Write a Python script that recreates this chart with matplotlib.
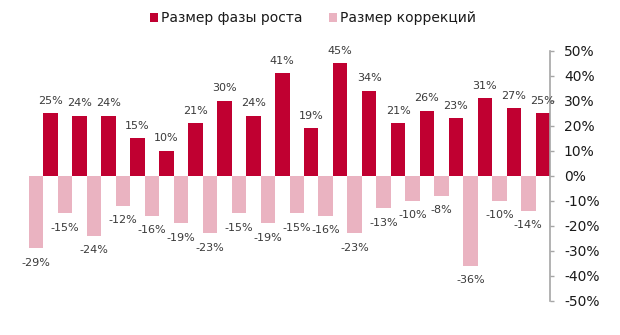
import numpy as np
import matplotlib
matplotlib.use('Agg')
import matplotlib.pyplot as plt
from matplotlib.patches import Patch

plt.rcParams['font.family'] = 'DejaVu Sans'
plt.rcParams['axes.unicode_minus'] = False

# Данные: размер фаз роста и коррекций (%)
rost = [25, 24, 24, 15, 10, 21, 30, 24, 41, 19, 45, 34, 21, 26, 23, 31, 27, 25]
korr = [-29, -15, -24, -12, -16, -19, -23, -15, -19, -15, -16, -23, -13, -10, -8, -36, -10, -14]
y_ticks = [-50, -40, -30, -20, -10, 0, 10, 20, 30, 40, 50]

RED = '#C00031'
PINK = '#EAB3C1'
TXT = '#3a3a3a'

fig = plt.figure(figsize=(6.2, 3.35), dpi=100)
ax = fig.add_axes([29 / 620, 1 - 301 / 335, (550 - 29) / 620, 250 / 335])

x = np.arange(len(rost))
w = 0.5
ax.bar(x - w / 2, korr, width=w, color=PINK, edgecolor='none')
ax.bar(x + w / 2, rost, width=w, color=RED, edgecolor='none')

# подписи значений
for xi, v in zip(x, rost):
    ax.annotate(f'{v}%', (xi + w / 2, v), textcoords='offset points', xytext=(0, 5.4),
                ha='center', va='bottom', fontsize=8, color=TXT)
for xi, v in zip(x, korr):
    ax.annotate(f'{v}%', (xi - w / 2, v), textcoords='offset points', xytext=(0, -6.5),
                ha='center', va='top', fontsize=8, color=TXT)

ax.set_xlim(-0.5, len(rost) - 0.5)
ax.set_ylim(-50, 50)
ax.set_yticks(y_ticks)
ax.set_yticklabels([f'{t}%' for t in y_ticks])
ax.yaxis.tick_right()
ax.tick_params(axis='y', labelsize=10, colors='#A6A6A6', labelcolor='#1a1a1a',
               length=3, width=1, pad=7)
ax.set_xticks([])
for s in ['top', 'left', 'bottom']:
    ax.spines[s].set_visible(False)
ax.spines['right'].set_color('#A6A6A6')
ax.spines['right'].set_linewidth(1.2)

handles = [Patch(facecolor=RED, label='Размер фазы роста'),
           Patch(facecolor=PINK, label='Размер коррекций')]
fig.legend(handles=handles, loc='center', bbox_to_anchor=(0.505, 1 - 18 / 335), ncol=2,
           frameon=False, fontsize=10, handlelength=0.6, handleheight=0.6,
           handletextpad=0.2, columnspacing=1.9, labelcolor='#1a1a1a')

fig.savefig('out.png', dpi=100)
